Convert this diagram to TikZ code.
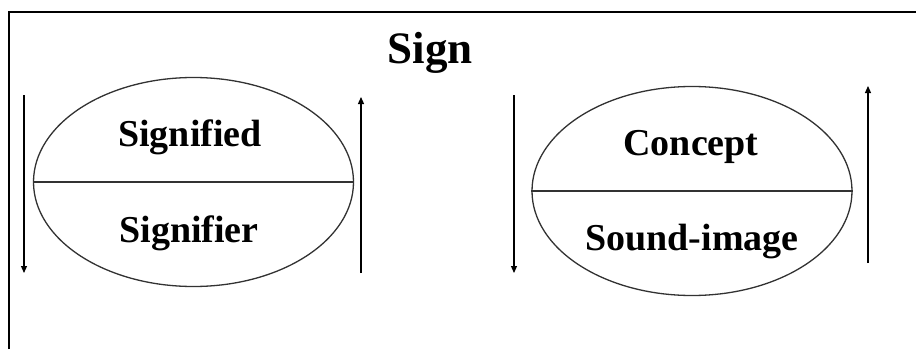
\documentclass[tikz,border=0pt]{standalone}
\usepackage{fontspec}
\setmainfont{Liberation Serif}
\usetikzlibrary{arrows.meta, positioning, shapes.geometric}
\definecolor{rimgray}{RGB}{50,50,50}

\begin{document}
\begin{tikzpicture}[
    x=1pt, y=1pt,
    >={Triangle[length=7pt, width=6pt]},
    halfoval/.style={ellipse, draw=rimgray, line width=1.3pt, inner sep=0pt,
        minimum width=320pt, minimum height=209pt},
    partlabel/.style={anchor=base, font=\bfseries\fontsize{38}{40}\selectfont},
    flowarrow/.style={->, line width=1.2pt}
]

% ============================================================
% Global dimensions
% ============================================================
\def\picW{916}
\def\picH{349}
\useasboundingbox (0,0) rectangle (\picW,\picH);

% Frame (cut at the right and bottom)
\draw[line width=1.4pt] (9,0) -- (9,337) -- (\picW,337);

% Title
\node[anchor=base, font=\bfseries\fontsize{45}{48}\selectfont] (title) at (430,286) {Sign};

% ============================================================
% LEFT: SIGNIFIED / SIGNIFIER
% ============================================================
\begin{scope}

    % Oval and its split line
    \node[halfoval] (sign1) at (193.5,167) {};
    \draw[rimgray, line width=1.3pt] (sign1.west) -- (sign1.east);

    % Labels
    \node[partlabel] (signified) at (190,203) {Signified};
    \node[partlabel] (signifier) at (189,107) {Signifier};

    % Arrows
    \coordinate (l1top) at (24,254);
    \coordinate (l1bot) at (24,76);
    \coordinate (r1bot) at (361,76);
    \coordinate (r1top) at (361,252);
    \draw[flowarrow] (l1top) -- (l1bot);
    \draw[flowarrow] (r1bot) -- (r1top);

\end{scope}

% ============================================================
% RIGHT: CONCEPT / SOUND-IMAGE
% ============================================================
\begin{scope}

    % Oval and its split line
    \node[halfoval] (sign2) at (692,158) {};
    \draw[rimgray, line width=1.3pt] (sign2.west) -- (sign2.east);

    % Labels
    \node[partlabel] (concept) at (691,194) {Concept};
    \node[partlabel] (soundimage) at (692,99) {Sound-image};

    % Arrows
    \coordinate (l2top) at (514,254);
    \coordinate (l2bot) at (514,76);
    \coordinate (r2bot) at (868,86);
    \coordinate (r2top) at (868,263);
    \draw[flowarrow] (l2top) -- (l2bot);
    \draw[flowarrow] (r2bot) -- (r2top);

\end{scope}

\end{tikzpicture}
\end{document}
